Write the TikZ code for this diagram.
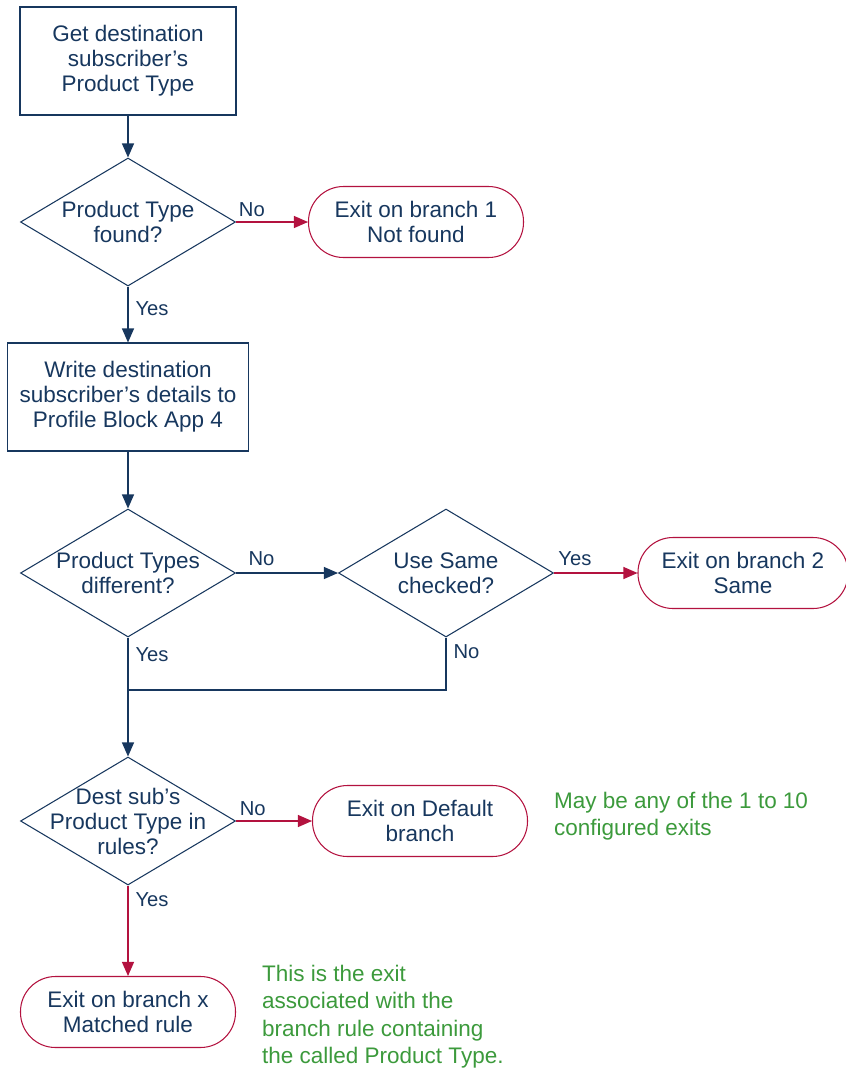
\documentclass[tikz,border=0pt]{standalone}
\usepackage{fontspec}
\setmainfont{Liberation Sans}
\usetikzlibrary{shapes.geometric,arrows.meta}
\definecolor{flowblue}{HTML}{17375E}
\definecolor{flowred}{HTML}{B3123F}
\definecolor{flowgreen}{HTML}{3C9A3C}
\tikzset{
    base/.style={text=flowblue, align=center, line width=0.6pt, font=\fontsize{12.8}{14.2}\selectfont},
    proc/.style={base, draw=flowblue, minimum height=2.16cm},
    decide/.style={base, draw=flowblue, diamond, aspect=1.68, inner sep=-8pt, minimum width=4.3cm, minimum height=2.56cm},
    term/.style={base, draw=flowred, rounded corners=0.7cm, minimum width=4.3cm, minimum height=1.42cm},
    lbl/.style={text=flowblue, font=\fontsize{11.5}{13}\selectfont, inner sep=1pt},
    note/.style={text=flowgreen, align=left, anchor=north west, font=\fontsize{12.8}{15.6}\selectfont},
    blueline/.style={draw=flowblue, line width=0.6pt},
    redline/.style={draw=flowred, line width=0.6pt},
    tip/.style={-{Triangle[length=0.28cm,width=0.24cm]}}
}
\begin{document}
\begin{tikzpicture}
    \useasboundingbox (0,0) rectangle (16.92,-21.38);
    % main column
    \node[proc, minimum width=4.32cm] (get) at (2.56,-1.22) {Get destination\\subscriber’s\\Product Type};
    \node[decide] (found) at (2.56,-4.44) {Product Type\\found?};
    \node[term] (exit1) at (8.32,-4.44) {Exit on branch 1\\Not found};
    \node[proc, minimum width=4.82cm] (write) at (2.56,-7.94) {Write destination\\subscriber’s details to\\Profile Block App 4};
    \node[decide] (diff) at (2.56,-11.46) {Product Types\\different?};
    \node[decide] (same) at (8.92,-11.46) {Use Same\\checked?};
    \node[term, minimum width=4.2cm] (exit2) at (14.86,-11.46) {Exit on branch 2\\Same};
    \coordinate (merge) at (2.56,-13.8);
    \node[decide] (rules) at (2.56,-16.42) {Dest sub’s\\Product Type in\\rules?};
    \node[term] (exitdef) at (8.4,-16.42) {Exit on Default\\branch};
    \node[term] (exitx) at (2.56,-20.24) {Exit on branch x\\Matched rule};
    % notes
    \node[note] (note1) at (10.96,-15.72) {May be any of the 1 to 10\\configured exits};
    \node[note] (note2) at (5.12,-19.18) {This is the exit\\associated with the\\branch rule containing\\the called Product Type.};
    % connectors
    \draw[blueline, tip] (get) -- (found);
    \draw[redline, tip] (found) -- node[lbl, pos=0.22, above=2pt] {No} (exit1);
    \draw[blueline, tip] (found) -- node[lbl, pos=0.4, right=3pt] {Yes} (write);
    \draw[blueline, tip] (write) -- (diff);
    \draw[blueline, tip] (diff) -- node[lbl, pos=0.25, above=3pt] {No} (same);
    \draw[redline, tip] (same) -- node[lbl, pos=0.25, above=3pt] {Yes} (exit2);
    \draw[blueline] (same.south) |- node[lbl, pos=0.13, right=3pt] {No} (merge);
    \draw[blueline, tip] (diff) -- node[lbl, pos=0.14, right=3pt] {Yes} (rules);
    \draw[redline, tip] (rules) -- node[lbl, pos=0.22, above=2pt] {No} (exitdef);
    \draw[redline, tip] (rules) -- node[lbl, pos=0.16, right=3pt] {Yes} (exitx);
\end{tikzpicture}
\end{document}
